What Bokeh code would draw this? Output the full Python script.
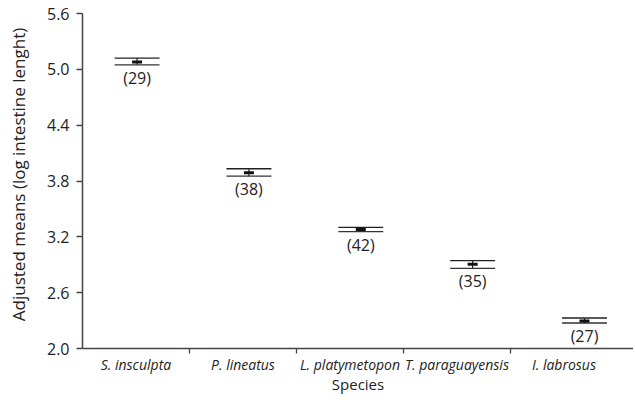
from bokeh.plotting import figure
from bokeh.models import FixedTicker, Range1d, ColumnDataSource, PrintfTickFormatter
from bokeh.embed import file_html
from bokeh.resources import INLINE
from bokeh.core.properties import value

# ---- data ----
species = ["S. insculpta", "P. lineatus", "L. platymetopon", "T. paraguayensis", "I. labrosus"]
means = [5.078, 3.889, 3.279, 2.905, 2.295]
upper = [5.121, 3.932, 3.301, 2.944, 2.328]
lower = [5.049, 3.852, 3.257, 2.862, 2.274]
n_obs = [29, 38, 42, 35, 27]
y_ticks = [2.0, 2.6, 3.2, 3.8, 4.4, 5.0, 5.6]

# ---- layout constants ----
FONT = "Open Sans"
TXT = "#222222"
AX = "#444444"
first_pos, spacing, half_w = 0.51, 1.0455, 0.21
Y_TOP_PAD = 0.14  # headroom above the last tick so its label is not clipped

xs = [first_pos + spacing * i for i in range(len(species))]
src = ColumnDataSource(dict(
    x=xs, x0=[x - half_w for x in xs], x1=[x + half_w for x in xs],
    mean=means, up=upper, lo=lower, lab=[f"({n})" for n in n_obs],
))

p = figure(frame_width=551, frame_height=348, output_backend="svg", toolbar_location=None,
           x_range=Range1d(0, 5.15), y_range=Range1d(y_ticks[0], y_ticks[-1] + Y_TOP_PAD),
           min_border_left=0, min_border_top=0, min_border_right=0, min_border_bottom=0)
p.margin = (0, 0, 0, 3)
p.outline_line_color = None
p.xgrid.visible = False
p.ygrid.visible = False

p.segment(x0="x0", x1="x1", y0="up", y1="up", source=src, line_color="#222222", line_width=1.3)
p.segment(x0="x0", x1="x1", y0="lo", y1="lo", source=src, line_color="#333333", line_width=1.3)
p.segment(x0="x", x1="x", y0="lo", y1="up", source=src, line_color="#222222", line_width=1.2)
p.rect(x="x", y="mean", width=10, height=3, width_units="screen", height_units="screen",
       source=src, fill_color="#111111", line_color=None)
p.text(x="x", y="lo", text="lab", source=src, text_align="center", text_baseline="top",
       y_offset=2, text_font=value(FONT), text_font_size="16px", text_color=TXT)

# x axis
xa = p.xaxis[0]
xa.ticker = FixedTicker(ticks=[0.5, 1.5, 2.5, 3.5, 4.5], minor_ticks=[1, 2, 3, 4])
xa.major_label_overrides = {0.5 + i: s for i, s in enumerate(species)}
xa.major_tick_line_color = None
xa.minor_tick_in = 0
xa.minor_tick_out = 5
xa.minor_tick_line_color = AX
xa.minor_tick_line_width = 1.3
xa.major_label_standoff = 0
xa.major_label_text_font = FONT
xa.major_label_text_font_style = "italic"
xa.major_label_text_font_size = "14px"
xa.major_label_text_color = TXT
xa.axis_label = "Species"
xa.axis_label_text_font = FONT
xa.axis_label_text_font_style = "normal"
xa.axis_label_text_font_size = "15px"
xa.axis_label_text_color = TXT
xa.axis_label_standoff = -3
xa.axis_line_color = AX
xa.axis_line_width = 1.5

# y axis
ya = p.yaxis[0]
ya.ticker = FixedTicker(ticks=y_ticks, minor_ticks=[])
ya.bounds = (y_ticks[0], y_ticks[-1])
ya.formatter = PrintfTickFormatter(format="%.1f")
ya.major_tick_in = 0
ya.major_tick_out = 6
ya.major_tick_line_color = AX
ya.major_tick_line_width = 1.3
ya.major_label_standoff = 7
ya.major_label_text_font = FONT
ya.major_label_text_font_size = "16px"
ya.major_label_text_color = TXT
ya.axis_label = "Adjusted means (log intestine lenght)"
ya.axis_label_text_font = FONT
ya.axis_label_text_font_style = "normal"
ya.axis_label_text_font_size = "17px"
ya.axis_label_text_color = TXT
ya.axis_label_standoff = 14
ya.axis_line_color = AX
ya.axis_line_width = 1.5

open("out.html", "w").write(file_html(p, INLINE))
